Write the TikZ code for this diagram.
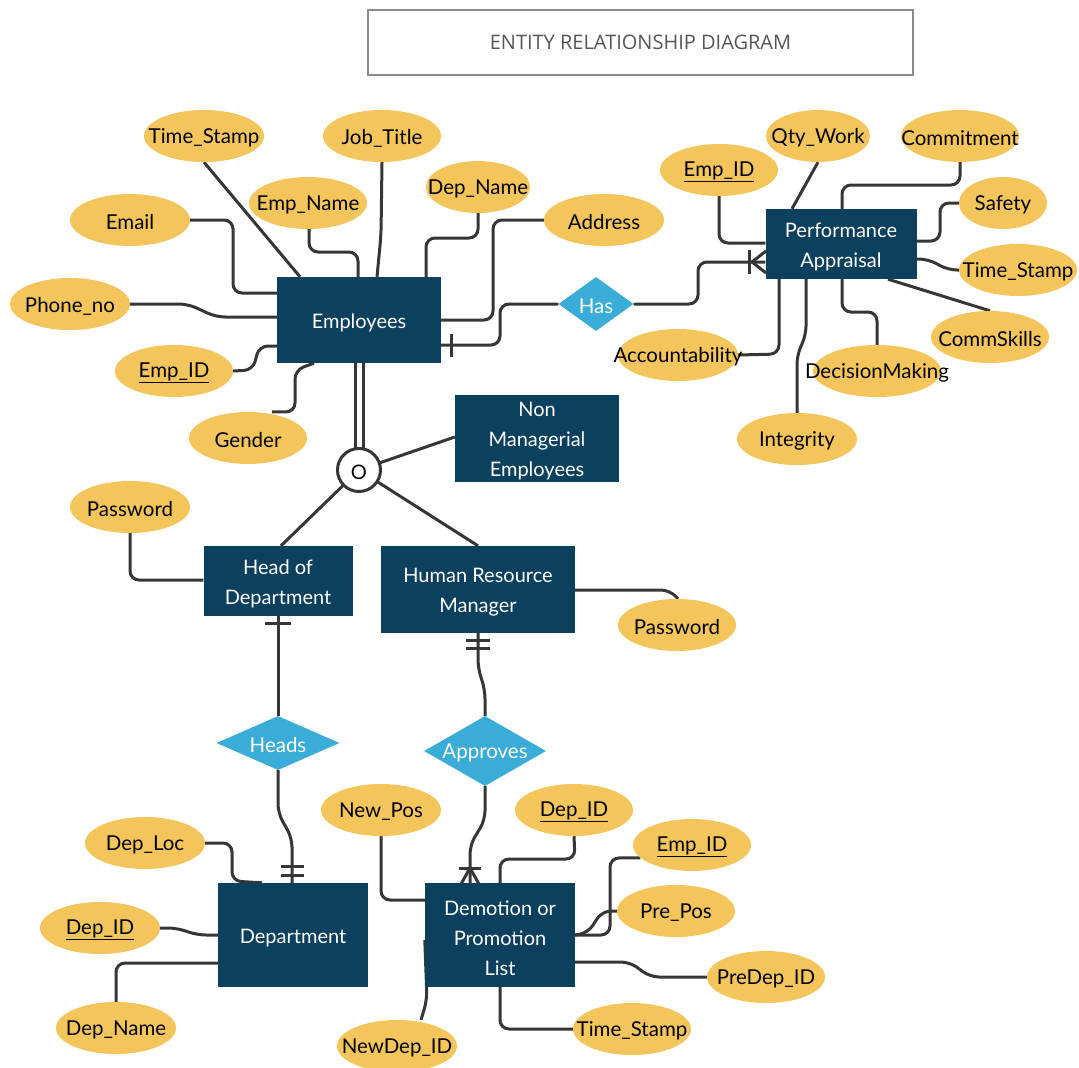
\documentclass[tikz,border=0pt]{standalone}
\usepackage{fontspec}
\setmainfont{Lato}
\newfontfamily\titlefont{Open Sans}
\usetikzlibrary{shapes.geometric,backgrounds}
\definecolor{entc}{HTML}{0B405E}
\definecolor{attrc}{HTML}{F3C55A}
\definecolor{relc}{HTML}{39ACD7}
\definecolor{linec}{HTML}{363636}
\definecolor{titleb}{HTML}{8A8A8A}
\definecolor{titlet}{HTML}{555555}
\newcommand{\zt}[1]{\makebox[0pt]{\raisebox{-2pt}[\height][\depth]{#1}}}
\tikzset{
  ent/.style={rectangle, fill=entc, inner sep=0pt},
  etext/.style={text=white, align=center, inner sep=0pt, yshift=-3pt,
    font=\fontsize{20}{30}\selectfont},
  attr/.style={ellipse, fill=attrc, text=black, inner sep=0pt, minimum height=52pt,
    font=\fontsize{20.5}{24}\selectfont},
  rel/.style={diamond, fill=relc, text=white, inner sep=0pt,
    font=\fontsize{20.5}{24}\selectfont},
  ln/.style={draw=linec, line width=3pt, rounded corners=9pt},
  tick/.style={draw=linec, line width=3pt},
}
\begin{document}
\begin{tikzpicture}[x=1pt,y=-1pt]
\useasboundingbox (0,0) rectangle (1079,1068);

% title
\node[draw=titleb, line width=2.6pt, minimum width=545pt, minimum height=65pt,
  text=titlet, font=\titlefont\fontsize{20}{24}\selectfont] (title) at (640.5,42.5)
  {ENTITY RELATIONSHIP DIAGRAM};

% entities
\node[ent, minimum width=164pt, minimum height=86pt, label={[etext]center:Employees}] (emp) at (359,320) {};
\node[ent, minimum width=151pt, minimum height=70pt, label={[etext]center:Performance\\Appraisal}] (pa) at (841,244) {};
\node[ent, minimum width=164pt, minimum height=87pt, label={[etext]center:Non\\Managerial\\Employees}] (nme) at (537,438) {};
\node[ent, minimum width=149pt, minimum height=70pt, label={[etext]center:Head of\\Department}] (hod) at (278,581) {};
\node[ent, minimum width=194pt, minimum height=87pt, label={[etext]center:Human Resource\\Manager}] (hrm) at (478,589.5) {};
\node[ent, minimum width=150pt, minimum height=104pt, label={[etext]center:Department}] (dept) at (293,935) {};
\node[ent, minimum width=150pt, minimum height=104pt, label={[etext]center:Demotion or\\Promotion\\List}] (dpl) at (500,935) {};

% ISA circle
\node[circle, draw=linec, line width=3pt, fill=white, minimum size=43pt, inner sep=0pt,
  font=\fontsize{20}{24}\selectfont] (isa) at (359,470) {\zt{O}};

% relationships
\node[rel, minimum width=75pt, minimum height=54pt] (has) at (596,304) {\zt{Has}};
\node[rel, minimum width=123pt, minimum height=54pt] (heads) at (278,743) {\zt{Heads}};
\node[rel, minimum width=122pt, minimum height=70pt] (apr) at (485,751) {\zt{Approves}};

% Employees attributes
\node[attr, minimum width=120pt] (e_ts) at (204,136) {\zt{Time\_Stamp}};
\node[attr, minimum width=118pt] (e_jt) at (382,136) {\zt{Job\_Title}};
\node[attr, minimum width=118pt] (e_en) at (308,203) {\zt{Emp\_Name}};
\node[attr, minimum width=104pt] (e_dn) at (478,187) {\zt{Dep\_Name}};
\node[attr, minimum width=120pt] (e_em) at (130,220) {\zt{Email}};
\node[attr, minimum width=120pt] (e_ad) at (604,220) {\zt{Address}};
\node[attr, minimum width=120pt] (e_ph) at (70,304) {\zt{Phone\_no}};
\node[attr, minimum width=118pt] (e_id) at (174,371) {\zt{\underline{Emp\_ID}}};
\node[attr, minimum width=118pt] (e_ge) at (248,438) {\zt{Gender}};

% Performance Appraisal attributes
\node[attr, minimum width=118pt] (p_id) at (719,170) {\zt{\underline{Emp\_ID}}};
\node[attr, minimum width=104pt] (p_qw) at (818,136) {\zt{Qty\_Work}};
\node[attr, minimum width=118pt] (p_cm) at (960,136) {\zt{Commitment}};
\node[attr, minimum width=88pt] (p_sf) at (1003,203) {\zt{Safety}};
\node[attr, minimum width=118pt] (p_ts) at (1018,270) {\zt{Time\_Stamp}};
\node[attr, minimum width=118pt] (p_cs) at (990,337) {\zt{CommSkills}};
\node[attr, minimum width=128pt] (p_dm) at (877,371) {\zt{DecisionMaking}};
\node[attr, minimum width=120pt] (p_in) at (797,439) {\zt{Integrity}};
\node[attr, minimum width=120pt] (p_ac) at (678,355) {\zt{Accountability}};

% other attributes
\node[attr, minimum width=120pt] (h_pw) at (130,507) {\zt{Password}};
\node[attr, minimum width=118pt] (r_pw) at (677,625) {\zt{Password}};
\node[attr, minimum width=120pt] (d_loc) at (145,843) {\zt{Dep\_Loc}};
\node[attr, minimum width=120pt] (d_id) at (100,928) {\zt{\underline{Dep\_ID}}};
\node[attr, minimum width=120pt] (d_nm) at (116,1028) {\zt{Dep\_Name}};
\node[attr, minimum width=120pt] (l_np) at (381,810) {\zt{New\_Pos}};
\node[attr, minimum width=118pt] (l_did) at (574,810) {\zt{\underline{Dep\_ID}}};
\node[attr, minimum width=118pt] (l_eid) at (692,845) {\zt{\underline{Emp\_ID}}};
\node[attr, minimum width=118pt] (l_pp) at (676,911) {\zt{Pre\_Pos}};
\node[attr, minimum width=118pt] (l_pd) at (766,977) {\zt{PreDep\_ID}};
\node[attr, minimum width=118pt] (l_ts) at (632,1029) {\zt{Time\_Stamp}};
\node[attr, minimum width=120pt] (l_nd) at (397,1046) {\zt{NewDep\_ID}};

\begin{pgfonlayer}{background}
% Employees attributes
\draw[ln] (e_ts.south) -- (emp.north -| 300,0);
\draw[ln] (e_jt.south) -- (381,235) -- (emp.north -| 377,0);
\draw[ln] (e_en.south -| 309,0) -- (309,252) -- (358,252) -- (emp.north -| 358,0);
\draw[ln] (e_dn.south) -- (478,238) -- (426,238) -- (emp.north -| 426,0);
\draw[ln] (e_em.east) -- (233,220) -- (233,293) -- (emp.west |- 0,293);
\draw[ln] (e_ad.west) -- (493,220) -- (493,320) -- (emp.east);
\draw[ln] (e_ph.east) -- (188,304) -- (216,317) -- (emp.west |- 0,317);
\draw[ln] (e_id.east) -- (253,370) -- (259,346) -- (emp.west |- 0,346);
\draw[ln] (e_ge.north -| 272,0) -- (295,412) -- (295,370) -- (emp.south -| 314,0);

% Employees -- Has -- Performance Appraisal
\draw[ln] (emp.east |- 0,345) -- (500,345) -- (500,304) -- (has.west);
\draw[tick] (451,334) -- (451,357);
\draw[ln] (has.east) -- (698,304) -- (698,262) -- (pa.west |- 0,262);
\draw[tick] (749,250) -- (749,274);
\draw[tick] (752,262) -- (766,251);
\draw[tick] (752,262) -- (766,273);

% Performance Appraisal attributes
\draw[ln] (p_id.south) -- (719,243) -- (pa.west |- 0,243);
\draw[ln] (p_qw.south) -- (pa.north -| 792,0);
\draw[ln] (p_cm.south) -- (960,185) -- (842,185) -- (pa.north -| 842,0);
\draw[ln] (p_sf.west) -- (940,203) -- (940,241) -- (pa.east |- 0,241);
\draw[ln] (pa.east |- 0,259) -- (928,259) -- (948,270) -- (p_ts.west);
\draw[ln] (pa.south -| 888,0) -- (p_cs.north);
\draw[ln] (pa.south -| 842,0) -- (842,312) -- (877,312) -- (p_dm.north);
\draw[ln] (pa.south -| 806,0) -- (806,335) -- (797,355) -- (p_in.north);
\draw[ln] (pa.south -| 779,0) -- (779,354) -- (p_ac.east);

% ISA
\draw[ln] (emp.south -| 355,0) -- (isa.center -| 355,0);
\draw[ln] (emp.south -| 363,0) -- (isa.center -| 363,0);
\draw[ln] (isa.center) -- (nme.west |- 0,437);
\draw[ln] (isa.center) -- (hod.north -| 281,0);
\draw[ln] (isa.center) -- (hrm.north -| 478,0);

% passwords
\draw[ln] (h_pw.south) -- (130,580) -- (hod.west |- 0,580);
\draw[ln] (hrm.east |- 0,590) -- (670,590) -- (r_pw.north -| 678,0);

% Head of Department -- Heads -- Department
\draw[ln] (hod.south) -- (heads.north);
\draw[tick] (265,623) -- (291,623);
\draw[ln] (heads.south) -- (278,813) -- (292,838) -- (dept.north -| 292,0);
\draw[tick] (281,866) -- (304,866);
\draw[tick] (281,875) -- (304,875);

% HR Manager -- Approves -- Demotion list
\draw[ln] (hrm.south) -- (478,668) -- (485,690) -- (apr.north);
\draw[tick] (466,640) -- (490,640);
\draw[tick] (466,648) -- (490,648);
\draw[ln] (apr.south) -- (485,820) -- (470,845) -- (dpl.north -| 470,0);
\draw[tick] (459,868) -- (481,868);
\draw[tick] (470,868) -- (461,884);
\draw[tick] (470,868) -- (479,884);

% Department attributes
\draw[ln] (d_loc.east) -- (232,843) -- (232,881) -- (dept.north -| 262,0);
\draw[ln] (d_id.east) -- (177,928) -- (197,935) -- (dept.west |- 0,935);
\draw[ln] (d_nm.north) -- (116,963) -- (dept.west |- 0,963);

% Demotion list attributes
\draw[ln] (l_np.south) -- (381,900) -- (dpl.west |- 0,900);
\draw[ln] (l_did.south) -- (575,859) -- (500,859) -- (dpl.north -| 500,0);
\draw[ln] (l_eid.194) -- (610,858) -- (610,935) -- (dpl.east);
\draw[ln] (l_pp.west) -- (602,911) -- (588,933) -- (dpl.east);
\draw[ln] (dpl.east |- 0,962) -- (630,962) -- (650,977) -- (l_pd.west);
\draw[ln] (dpl.south) -- (500,1029) -- (l_ts.west);
\draw[ln] (dpl.west |- 0,940) -- (427,1000) -- (l_nd.north -| 421,0);
\end{pgfonlayer}
\end{tikzpicture}
\end{document}
